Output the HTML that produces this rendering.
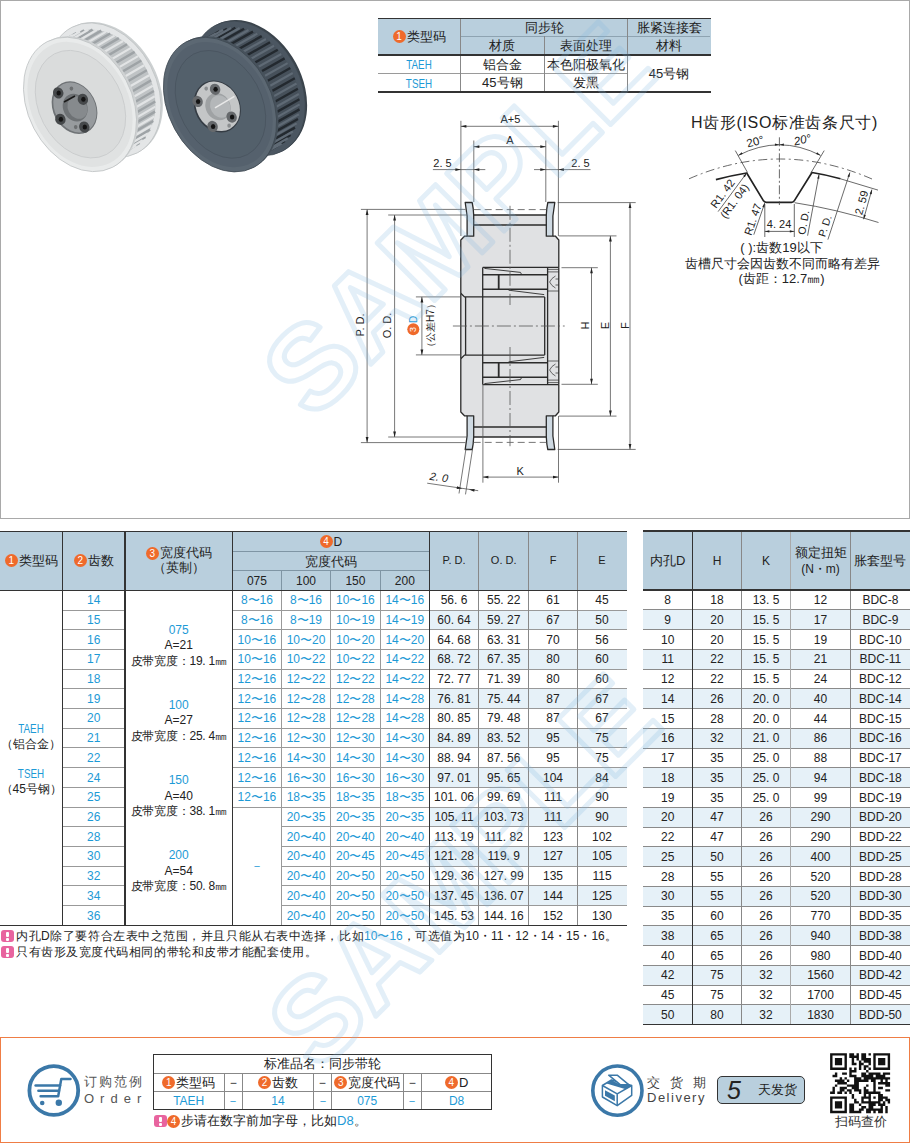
<!DOCTYPE html>
<html><head><meta charset="utf-8"><title>同步带轮</title>
<style>
*{box-sizing:border-box}
html,body{margin:0;padding:0}
body{width:910px;height:1144px;position:relative;overflow:hidden;background:#fff;font-family:"Liberation Sans",sans-serif;color:#222}
.t{position:absolute;width:300px;height:30px;display:flex;align-items:center;justify-content:center;white-space:nowrap;line-height:1}
.c{display:inline-block;border-radius:50%;background:#ef6a2b;color:#fff;text-align:center;vertical-align:middle;margin-right:1px;font-family:"Liberation Sans",sans-serif}
.b{color:#1d9ad6}
svg{position:absolute;left:0;top:0;overflow:visible}
</style></head><body>

<div style="position:absolute;left:0;top:0;width:910px;height:519px;border:1px solid #a9a9a9"></div>
<div style="position:absolute;left:377.5px;top:18.3px;width:333.0px;height:36.8px;background:#b9cfdd"></div>
<div style="position:absolute;left:460.6px;top:35.80px;width:249.9px;height:1px;background:#8ea3b1"></div>
<div style="position:absolute;left:377.5px;top:73.20px;width:250.1px;height:1px;background:#9a9a9a"></div>
<div style="position:absolute;left:460.10px;top:18.3px;width:1px;height:73.6px;background:#888"></div>
<div style="position:absolute;left:543.50px;top:36.3px;width:1px;height:55.6px;background:#888"></div>
<div style="position:absolute;left:627.10px;top:18.3px;width:1px;height:73.6px;background:#888"></div>
<div style="position:absolute;left:377.5px;top:17.55px;width:333.0px;height:1.5px;background:#333"></div>
<div style="position:absolute;left:377.5px;top:54.35px;width:333.0px;height:1.5px;background:#333"></div>
<div style="position:absolute;left:377.5px;top:91.15px;width:333.0px;height:1.5px;background:#333"></div>
<div class="t" style="left:269.1px;top:21.7px;font-size:13px;color:#222;"><span class="c" style="width:13px;height:13px;font-size:10px;line-height:13px">1</span>类型码</div>
<div class="t" style="left:394.1px;top:12.3px;font-size:13px;color:#222;">同步轮</div>
<div class="t" style="left:519.0px;top:12.3px;font-size:13px;color:#222;">胀紧连接套</div>
<div class="t" style="left:352.3px;top:30.7px;font-size:13px;color:#222;">材质</div>
<div class="t" style="left:435.8px;top:30.7px;font-size:13px;color:#222;">表面处理</div>
<div class="t" style="left:519.0px;top:30.7px;font-size:13px;color:#222;">材料</div>
<div class="t" style="left:269.1px;top:50.2px;font-size:12px;color:#1d9ad6;transform:scaleX(0.82)">TAEH</div>
<div class="t" style="left:269.1px;top:68.6px;font-size:12px;color:#1d9ad6;transform:scaleX(0.82)">TSEH</div>
<div class="t" style="left:352.3px;top:49.4px;font-size:13px;color:#222;">铝合金</div>
<div class="t" style="left:352.3px;top:67.8px;font-size:13px;color:#222;">45号钢</div>
<div class="t" style="left:435.8px;top:49.4px;font-size:13px;color:#222;">本色阳极氧化</div>
<div class="t" style="left:435.8px;top:67.8px;font-size:13px;color:#222;">发黑</div>
<div class="t" style="left:519.0px;top:58.5px;font-size:13px;color:#222;">45号钢</div>
<div style="position:absolute;left:0.0px;top:531.4px;width:626.7px;height:58.9px;background:#b9cfdd"></div>
<div style="position:absolute;left:429.3px;top:610.0px;width:197.4px;height:19.7px;background:#e6f1f8"></div>
<div style="position:absolute;left:429.3px;top:649.4px;width:197.4px;height:19.7px;background:#e6f1f8"></div>
<div style="position:absolute;left:429.3px;top:688.9px;width:197.4px;height:19.7px;background:#e6f1f8"></div>
<div style="position:absolute;left:429.3px;top:728.3px;width:197.4px;height:19.7px;background:#e6f1f8"></div>
<div style="position:absolute;left:429.3px;top:767.7px;width:197.4px;height:19.7px;background:#e6f1f8"></div>
<div style="position:absolute;left:429.3px;top:807.1px;width:197.4px;height:19.7px;background:#e6f1f8"></div>
<div style="position:absolute;left:429.3px;top:846.6px;width:197.4px;height:19.7px;background:#e6f1f8"></div>
<div style="position:absolute;left:429.3px;top:886.0px;width:197.4px;height:19.7px;background:#e6f1f8"></div>
<div style="position:absolute;left:232.4px;top:551.00px;width:196.9px;height:1px;background:#7f95a4"></div>
<div style="position:absolute;left:232.4px;top:570.20px;width:196.9px;height:1px;background:#7f95a4"></div>
<div style="position:absolute;left:281.00px;top:570.7px;width:1px;height:19.6px;background:#7f95a4"></div>
<div style="position:absolute;left:330.00px;top:570.7px;width:1px;height:19.6px;background:#7f95a4"></div>
<div style="position:absolute;left:379.80px;top:570.7px;width:1px;height:19.6px;background:#7f95a4"></div>
<div style="position:absolute;left:62.4px;top:609.51px;width:62.6px;height:1px;background:#999"></div>
<div style="position:absolute;left:232.4px;top:609.51px;width:394.3px;height:1px;background:#999"></div>
<div style="position:absolute;left:62.4px;top:629.22px;width:62.6px;height:1px;background:#999"></div>
<div style="position:absolute;left:232.4px;top:629.22px;width:394.3px;height:1px;background:#999"></div>
<div style="position:absolute;left:62.4px;top:648.94px;width:62.6px;height:1px;background:#999"></div>
<div style="position:absolute;left:232.4px;top:648.94px;width:394.3px;height:1px;background:#999"></div>
<div style="position:absolute;left:62.4px;top:668.65px;width:62.6px;height:1px;background:#999"></div>
<div style="position:absolute;left:232.4px;top:668.65px;width:394.3px;height:1px;background:#999"></div>
<div style="position:absolute;left:62.4px;top:688.36px;width:62.6px;height:1px;background:#999"></div>
<div style="position:absolute;left:232.4px;top:688.36px;width:394.3px;height:1px;background:#999"></div>
<div style="position:absolute;left:62.4px;top:708.07px;width:62.6px;height:1px;background:#999"></div>
<div style="position:absolute;left:232.4px;top:708.07px;width:394.3px;height:1px;background:#999"></div>
<div style="position:absolute;left:62.4px;top:727.78px;width:62.6px;height:1px;background:#999"></div>
<div style="position:absolute;left:232.4px;top:727.78px;width:394.3px;height:1px;background:#999"></div>
<div style="position:absolute;left:62.4px;top:747.49px;width:62.6px;height:1px;background:#999"></div>
<div style="position:absolute;left:232.4px;top:747.49px;width:394.3px;height:1px;background:#999"></div>
<div style="position:absolute;left:62.4px;top:767.21px;width:62.6px;height:1px;background:#999"></div>
<div style="position:absolute;left:232.4px;top:767.21px;width:394.3px;height:1px;background:#999"></div>
<div style="position:absolute;left:62.4px;top:786.92px;width:62.6px;height:1px;background:#999"></div>
<div style="position:absolute;left:232.4px;top:786.92px;width:394.3px;height:1px;background:#999"></div>
<div style="position:absolute;left:62.4px;top:806.63px;width:62.6px;height:1px;background:#999"></div>
<div style="position:absolute;left:232.4px;top:806.63px;width:394.3px;height:1px;background:#999"></div>
<div style="position:absolute;left:62.4px;top:826.34px;width:62.6px;height:1px;background:#999"></div>
<div style="position:absolute;left:281.5px;top:826.34px;width:345.2px;height:1px;background:#999"></div>
<div style="position:absolute;left:62.4px;top:846.05px;width:62.6px;height:1px;background:#999"></div>
<div style="position:absolute;left:281.5px;top:846.05px;width:345.2px;height:1px;background:#999"></div>
<div style="position:absolute;left:62.4px;top:865.76px;width:62.6px;height:1px;background:#999"></div>
<div style="position:absolute;left:281.5px;top:865.76px;width:345.2px;height:1px;background:#999"></div>
<div style="position:absolute;left:62.4px;top:885.48px;width:62.6px;height:1px;background:#999"></div>
<div style="position:absolute;left:281.5px;top:885.48px;width:345.2px;height:1px;background:#999"></div>
<div style="position:absolute;left:62.4px;top:905.19px;width:62.6px;height:1px;background:#999"></div>
<div style="position:absolute;left:281.5px;top:905.19px;width:345.2px;height:1px;background:#999"></div>
<div style="position:absolute;left:281.00px;top:590.3px;width:1px;height:335.1px;background:#999"></div>
<div style="position:absolute;left:330.00px;top:590.3px;width:1px;height:335.1px;background:#999"></div>
<div style="position:absolute;left:379.80px;top:590.3px;width:1px;height:335.1px;background:#999"></div>
<div style="position:absolute;left:478.10px;top:531.4px;width:1px;height:394.0px;background:#888"></div>
<div style="position:absolute;left:528.20px;top:531.4px;width:1px;height:394.0px;background:#888"></div>
<div style="position:absolute;left:576.90px;top:531.4px;width:1px;height:394.0px;background:#888"></div>
<div style="position:absolute;left:61.75px;top:531.4px;width:1.3px;height:394.0px;background:#333"></div>
<div style="position:absolute;left:124.35px;top:531.4px;width:1.3px;height:394.0px;background:#333"></div>
<div style="position:absolute;left:231.75px;top:531.4px;width:1.3px;height:394.0px;background:#333"></div>
<div style="position:absolute;left:428.65px;top:531.4px;width:1.3px;height:394.0px;background:#333"></div>
<div style="position:absolute;left:0.0px;top:530.65px;width:626.7px;height:1.5px;background:#333"></div>
<div style="position:absolute;left:0.0px;top:589.55px;width:626.7px;height:1.5px;background:#333"></div>
<div style="position:absolute;left:0.0px;top:924.65px;width:626.7px;height:1.5px;background:#333"></div>
<div class="t" style="left:-118.8px;top:545.8px;font-size:13px;color:#222;"><span class="c" style="width:13px;height:13px;font-size:10px;line-height:13px">1</span>类型码</div>
<div class="t" style="left:-56.3px;top:545.8px;font-size:13px;color:#222;"><span class="c" style="width:13px;height:13px;font-size:10px;line-height:13px">2</span>齿数</div>
<div class="t" style="left:28.7px;top:544.8px;font-size:13px;flex-direction:column;line-height:15px"><div><span class="c" style="width:13px;height:13px;font-size:10px;line-height:13px">3</span>宽度代码</div><div>（英制）</div></div>
<div class="t" style="left:180.9px;top:526.5px;font-size:12px;color:#222;"><span class="c" style="width:13px;height:13px;font-size:10px;line-height:13px">4</span>D</div>
<div class="t" style="left:180.9px;top:546.1px;font-size:13px;color:#222;">宽度代码</div>
<div class="t" style="left:106.9px;top:565.5px;font-size:12px;color:#222;">075</div>
<div class="t" style="left:156.0px;top:565.5px;font-size:12px;color:#222;">100</div>
<div class="t" style="left:205.4px;top:565.5px;font-size:12px;color:#222;">150</div>
<div class="t" style="left:254.8px;top:565.5px;font-size:12px;color:#222;">200</div>
<div class="t" style="left:304.0px;top:545.8px;font-size:11px;color:#222;">P. D.</div>
<div class="t" style="left:353.7px;top:545.8px;font-size:11px;color:#222;">O. D.</div>
<div class="t" style="left:403.0px;top:545.8px;font-size:11px;color:#222;">F</div>
<div class="t" style="left:452.0px;top:545.8px;font-size:11px;color:#222;">E</div>
<div class="t" style="left:-56.3px;top:585.2px;font-size:12px;color:#1d9ad6;">14</div>
<div class="t" style="left:106.9px;top:585.2px;font-size:12px;color:#1d9ad6;">8〜16</div>
<div class="t" style="left:156.0px;top:585.2px;font-size:12px;color:#1d9ad6;">8〜16</div>
<div class="t" style="left:205.4px;top:585.2px;font-size:12px;color:#1d9ad6;">10〜16</div>
<div class="t" style="left:254.8px;top:585.2px;font-size:12px;color:#1d9ad6;">14〜16</div>
<div class="t" style="left:304.0px;top:585.2px;font-size:12px;color:#222;">56. 6</div>
<div class="t" style="left:353.7px;top:585.2px;font-size:12px;color:#222;">55. 22</div>
<div class="t" style="left:403.0px;top:585.2px;font-size:12px;color:#222;">61</div>
<div class="t" style="left:452.0px;top:585.2px;font-size:12px;color:#222;">45</div>
<div class="t" style="left:-56.3px;top:604.9px;font-size:12px;color:#1d9ad6;">15</div>
<div class="t" style="left:106.9px;top:604.9px;font-size:12px;color:#1d9ad6;">8〜16</div>
<div class="t" style="left:156.0px;top:604.9px;font-size:12px;color:#1d9ad6;">8〜19</div>
<div class="t" style="left:205.4px;top:604.9px;font-size:12px;color:#1d9ad6;">10〜19</div>
<div class="t" style="left:254.8px;top:604.9px;font-size:12px;color:#1d9ad6;">14〜19</div>
<div class="t" style="left:304.0px;top:604.9px;font-size:12px;color:#222;">60. 64</div>
<div class="t" style="left:353.7px;top:604.9px;font-size:12px;color:#222;">59. 27</div>
<div class="t" style="left:403.0px;top:604.9px;font-size:12px;color:#222;">67</div>
<div class="t" style="left:452.0px;top:604.9px;font-size:12px;color:#222;">50</div>
<div class="t" style="left:-56.3px;top:624.6px;font-size:12px;color:#1d9ad6;">16</div>
<div class="t" style="left:106.9px;top:624.6px;font-size:12px;color:#1d9ad6;">10〜16</div>
<div class="t" style="left:156.0px;top:624.6px;font-size:12px;color:#1d9ad6;">10〜20</div>
<div class="t" style="left:205.4px;top:624.6px;font-size:12px;color:#1d9ad6;">10〜20</div>
<div class="t" style="left:254.8px;top:624.6px;font-size:12px;color:#1d9ad6;">14〜20</div>
<div class="t" style="left:304.0px;top:624.6px;font-size:12px;color:#222;">64. 68</div>
<div class="t" style="left:353.7px;top:624.6px;font-size:12px;color:#222;">63. 31</div>
<div class="t" style="left:403.0px;top:624.6px;font-size:12px;color:#222;">70</div>
<div class="t" style="left:452.0px;top:624.6px;font-size:12px;color:#222;">56</div>
<div class="t" style="left:-56.3px;top:644.3px;font-size:12px;color:#1d9ad6;">17</div>
<div class="t" style="left:106.9px;top:644.3px;font-size:12px;color:#1d9ad6;">10〜16</div>
<div class="t" style="left:156.0px;top:644.3px;font-size:12px;color:#1d9ad6;">10〜22</div>
<div class="t" style="left:205.4px;top:644.3px;font-size:12px;color:#1d9ad6;">10〜22</div>
<div class="t" style="left:254.8px;top:644.3px;font-size:12px;color:#1d9ad6;">14〜22</div>
<div class="t" style="left:304.0px;top:644.3px;font-size:12px;color:#222;">68. 72</div>
<div class="t" style="left:353.7px;top:644.3px;font-size:12px;color:#222;">67. 35</div>
<div class="t" style="left:403.0px;top:644.3px;font-size:12px;color:#222;">80</div>
<div class="t" style="left:452.0px;top:644.3px;font-size:12px;color:#222;">60</div>
<div class="t" style="left:-56.3px;top:664.0px;font-size:12px;color:#1d9ad6;">18</div>
<div class="t" style="left:106.9px;top:664.0px;font-size:12px;color:#1d9ad6;">12〜16</div>
<div class="t" style="left:156.0px;top:664.0px;font-size:12px;color:#1d9ad6;">12〜22</div>
<div class="t" style="left:205.4px;top:664.0px;font-size:12px;color:#1d9ad6;">12〜22</div>
<div class="t" style="left:254.8px;top:664.0px;font-size:12px;color:#1d9ad6;">14〜22</div>
<div class="t" style="left:304.0px;top:664.0px;font-size:12px;color:#222;">72. 77</div>
<div class="t" style="left:353.7px;top:664.0px;font-size:12px;color:#222;">71. 39</div>
<div class="t" style="left:403.0px;top:664.0px;font-size:12px;color:#222;">80</div>
<div class="t" style="left:452.0px;top:664.0px;font-size:12px;color:#222;">60</div>
<div class="t" style="left:-56.3px;top:683.7px;font-size:12px;color:#1d9ad6;">19</div>
<div class="t" style="left:106.9px;top:683.7px;font-size:12px;color:#1d9ad6;">12〜16</div>
<div class="t" style="left:156.0px;top:683.7px;font-size:12px;color:#1d9ad6;">12〜28</div>
<div class="t" style="left:205.4px;top:683.7px;font-size:12px;color:#1d9ad6;">12〜28</div>
<div class="t" style="left:254.8px;top:683.7px;font-size:12px;color:#1d9ad6;">14〜28</div>
<div class="t" style="left:304.0px;top:683.7px;font-size:12px;color:#222;">76. 81</div>
<div class="t" style="left:353.7px;top:683.7px;font-size:12px;color:#222;">75. 44</div>
<div class="t" style="left:403.0px;top:683.7px;font-size:12px;color:#222;">87</div>
<div class="t" style="left:452.0px;top:683.7px;font-size:12px;color:#222;">67</div>
<div class="t" style="left:-56.3px;top:703.4px;font-size:12px;color:#1d9ad6;">20</div>
<div class="t" style="left:106.9px;top:703.4px;font-size:12px;color:#1d9ad6;">12〜16</div>
<div class="t" style="left:156.0px;top:703.4px;font-size:12px;color:#1d9ad6;">12〜28</div>
<div class="t" style="left:205.4px;top:703.4px;font-size:12px;color:#1d9ad6;">12〜28</div>
<div class="t" style="left:254.8px;top:703.4px;font-size:12px;color:#1d9ad6;">14〜28</div>
<div class="t" style="left:304.0px;top:703.4px;font-size:12px;color:#222;">80. 85</div>
<div class="t" style="left:353.7px;top:703.4px;font-size:12px;color:#222;">79. 48</div>
<div class="t" style="left:403.0px;top:703.4px;font-size:12px;color:#222;">87</div>
<div class="t" style="left:452.0px;top:703.4px;font-size:12px;color:#222;">67</div>
<div class="t" style="left:-56.3px;top:723.1px;font-size:12px;color:#1d9ad6;">21</div>
<div class="t" style="left:106.9px;top:723.1px;font-size:12px;color:#1d9ad6;">12〜16</div>
<div class="t" style="left:156.0px;top:723.1px;font-size:12px;color:#1d9ad6;">12〜30</div>
<div class="t" style="left:205.4px;top:723.1px;font-size:12px;color:#1d9ad6;">12〜30</div>
<div class="t" style="left:254.8px;top:723.1px;font-size:12px;color:#1d9ad6;">14〜30</div>
<div class="t" style="left:304.0px;top:723.1px;font-size:12px;color:#222;">84. 89</div>
<div class="t" style="left:353.7px;top:723.1px;font-size:12px;color:#222;">83. 52</div>
<div class="t" style="left:403.0px;top:723.1px;font-size:12px;color:#222;">95</div>
<div class="t" style="left:452.0px;top:723.1px;font-size:12px;color:#222;">75</div>
<div class="t" style="left:-56.3px;top:742.8px;font-size:12px;color:#1d9ad6;">22</div>
<div class="t" style="left:106.9px;top:742.8px;font-size:12px;color:#1d9ad6;">12〜16</div>
<div class="t" style="left:156.0px;top:742.8px;font-size:12px;color:#1d9ad6;">14〜30</div>
<div class="t" style="left:205.4px;top:742.8px;font-size:12px;color:#1d9ad6;">14〜30</div>
<div class="t" style="left:254.8px;top:742.8px;font-size:12px;color:#1d9ad6;">14〜30</div>
<div class="t" style="left:304.0px;top:742.8px;font-size:12px;color:#222;">88. 94</div>
<div class="t" style="left:353.7px;top:742.8px;font-size:12px;color:#222;">87. 56</div>
<div class="t" style="left:403.0px;top:742.8px;font-size:12px;color:#222;">95</div>
<div class="t" style="left:452.0px;top:742.8px;font-size:12px;color:#222;">75</div>
<div class="t" style="left:-56.3px;top:762.6px;font-size:12px;color:#1d9ad6;">24</div>
<div class="t" style="left:106.9px;top:762.6px;font-size:12px;color:#1d9ad6;">12〜16</div>
<div class="t" style="left:156.0px;top:762.6px;font-size:12px;color:#1d9ad6;">16〜30</div>
<div class="t" style="left:205.4px;top:762.6px;font-size:12px;color:#1d9ad6;">16〜30</div>
<div class="t" style="left:254.8px;top:762.6px;font-size:12px;color:#1d9ad6;">16〜30</div>
<div class="t" style="left:304.0px;top:762.6px;font-size:12px;color:#222;">97. 01</div>
<div class="t" style="left:353.7px;top:762.6px;font-size:12px;color:#222;">95. 65</div>
<div class="t" style="left:403.0px;top:762.6px;font-size:12px;color:#222;">104</div>
<div class="t" style="left:452.0px;top:762.6px;font-size:12px;color:#222;">84</div>
<div class="t" style="left:-56.3px;top:782.3px;font-size:12px;color:#1d9ad6;">25</div>
<div class="t" style="left:106.9px;top:782.3px;font-size:12px;color:#1d9ad6;">12〜16</div>
<div class="t" style="left:156.0px;top:782.3px;font-size:12px;color:#1d9ad6;">18〜35</div>
<div class="t" style="left:205.4px;top:782.3px;font-size:12px;color:#1d9ad6;">18〜35</div>
<div class="t" style="left:254.8px;top:782.3px;font-size:12px;color:#1d9ad6;">18〜35</div>
<div class="t" style="left:304.0px;top:782.3px;font-size:12px;color:#222;">101. 06</div>
<div class="t" style="left:353.7px;top:782.3px;font-size:12px;color:#222;">99. 69</div>
<div class="t" style="left:403.0px;top:782.3px;font-size:12px;color:#222;">111</div>
<div class="t" style="left:452.0px;top:782.3px;font-size:12px;color:#222;">90</div>
<div class="t" style="left:-56.3px;top:802.0px;font-size:12px;color:#1d9ad6;">26</div>
<div class="t" style="left:156.0px;top:802.0px;font-size:12px;color:#1d9ad6;">20〜35</div>
<div class="t" style="left:205.4px;top:802.0px;font-size:12px;color:#1d9ad6;">20〜35</div>
<div class="t" style="left:254.8px;top:802.0px;font-size:12px;color:#1d9ad6;">20〜35</div>
<div class="t" style="left:304.0px;top:802.0px;font-size:12px;color:#222;">105. 11</div>
<div class="t" style="left:353.7px;top:802.0px;font-size:12px;color:#222;">103. 73</div>
<div class="t" style="left:403.0px;top:802.0px;font-size:12px;color:#222;">111</div>
<div class="t" style="left:452.0px;top:802.0px;font-size:12px;color:#222;">90</div>
<div class="t" style="left:-56.3px;top:821.7px;font-size:12px;color:#1d9ad6;">28</div>
<div class="t" style="left:156.0px;top:821.7px;font-size:12px;color:#1d9ad6;">20〜40</div>
<div class="t" style="left:205.4px;top:821.7px;font-size:12px;color:#1d9ad6;">20〜40</div>
<div class="t" style="left:254.8px;top:821.7px;font-size:12px;color:#1d9ad6;">20〜40</div>
<div class="t" style="left:304.0px;top:821.7px;font-size:12px;color:#222;">113. 19</div>
<div class="t" style="left:353.7px;top:821.7px;font-size:12px;color:#222;">111. 82</div>
<div class="t" style="left:403.0px;top:821.7px;font-size:12px;color:#222;">123</div>
<div class="t" style="left:452.0px;top:821.7px;font-size:12px;color:#222;">102</div>
<div class="t" style="left:-56.3px;top:841.4px;font-size:12px;color:#1d9ad6;">30</div>
<div class="t" style="left:156.0px;top:841.4px;font-size:12px;color:#1d9ad6;">20〜40</div>
<div class="t" style="left:205.4px;top:841.4px;font-size:12px;color:#1d9ad6;">20〜45</div>
<div class="t" style="left:254.8px;top:841.4px;font-size:12px;color:#1d9ad6;">20〜45</div>
<div class="t" style="left:304.0px;top:841.4px;font-size:12px;color:#222;">121. 28</div>
<div class="t" style="left:353.7px;top:841.4px;font-size:12px;color:#222;">119. 9</div>
<div class="t" style="left:403.0px;top:841.4px;font-size:12px;color:#222;">127</div>
<div class="t" style="left:452.0px;top:841.4px;font-size:12px;color:#222;">105</div>
<div class="t" style="left:-56.3px;top:861.1px;font-size:12px;color:#1d9ad6;">32</div>
<div class="t" style="left:156.0px;top:861.1px;font-size:12px;color:#1d9ad6;">20〜40</div>
<div class="t" style="left:205.4px;top:861.1px;font-size:12px;color:#1d9ad6;">20〜50</div>
<div class="t" style="left:254.8px;top:861.1px;font-size:12px;color:#1d9ad6;">20〜50</div>
<div class="t" style="left:304.0px;top:861.1px;font-size:12px;color:#222;">129. 36</div>
<div class="t" style="left:353.7px;top:861.1px;font-size:12px;color:#222;">127. 99</div>
<div class="t" style="left:403.0px;top:861.1px;font-size:12px;color:#222;">135</div>
<div class="t" style="left:452.0px;top:861.1px;font-size:12px;color:#222;">115</div>
<div class="t" style="left:-56.3px;top:880.8px;font-size:12px;color:#1d9ad6;">34</div>
<div class="t" style="left:156.0px;top:880.8px;font-size:12px;color:#1d9ad6;">20〜40</div>
<div class="t" style="left:205.4px;top:880.8px;font-size:12px;color:#1d9ad6;">20〜50</div>
<div class="t" style="left:254.8px;top:880.8px;font-size:12px;color:#1d9ad6;">20〜50</div>
<div class="t" style="left:304.0px;top:880.8px;font-size:12px;color:#222;">137. 45</div>
<div class="t" style="left:353.7px;top:880.8px;font-size:12px;color:#222;">136. 07</div>
<div class="t" style="left:403.0px;top:880.8px;font-size:12px;color:#222;">144</div>
<div class="t" style="left:452.0px;top:880.8px;font-size:12px;color:#222;">125</div>
<div class="t" style="left:-56.3px;top:900.5px;font-size:12px;color:#1d9ad6;">36</div>
<div class="t" style="left:156.0px;top:900.5px;font-size:12px;color:#1d9ad6;">20〜40</div>
<div class="t" style="left:205.4px;top:900.5px;font-size:12px;color:#1d9ad6;">20〜50</div>
<div class="t" style="left:254.8px;top:900.5px;font-size:12px;color:#1d9ad6;">20〜50</div>
<div class="t" style="left:304.0px;top:900.5px;font-size:12px;color:#222;">145. 53</div>
<div class="t" style="left:353.7px;top:900.5px;font-size:12px;color:#222;">144. 16</div>
<div class="t" style="left:403.0px;top:900.5px;font-size:12px;color:#222;">152</div>
<div class="t" style="left:452.0px;top:900.5px;font-size:12px;color:#222;">130</div>
<div class="t" style="left:-118.8px;top:713.8px;font-size:12px;color:#1d9ad6;transform:scaleX(0.82)">TAEH</div>
<div class="t" style="left:-118.8px;top:728.6px;font-size:12px;color:#222;">（铝合金）</div>
<div class="t" style="left:-118.8px;top:759.1px;font-size:12px;color:#1d9ad6;transform:scaleX(0.82)">TSEH</div>
<div class="t" style="left:-118.8px;top:773.9px;font-size:12px;color:#222;">（45号钢）</div>
<div class="t" style="left:28.7px;top:614.9px;font-size:12px;color:#1d9ad6;">075</div>
<div class="t" style="left:28.7px;top:630.4px;font-size:12px;color:#222;">A=21</div>
<div class="t" style="left:28.7px;top:645.9px;font-size:12px;color:#222;letter-spacing:-0.25px">皮带宽度：19. 1㎜</div>
<div class="t" style="left:28.7px;top:689.5px;font-size:12px;color:#1d9ad6;">100</div>
<div class="t" style="left:28.7px;top:705.0px;font-size:12px;color:#222;">A=27</div>
<div class="t" style="left:28.7px;top:720.5px;font-size:12px;color:#222;letter-spacing:-0.25px">皮带宽度：25. 4㎜</div>
<div class="t" style="left:28.7px;top:765.0px;font-size:12px;color:#1d9ad6;">150</div>
<div class="t" style="left:28.7px;top:780.5px;font-size:12px;color:#222;">A=40</div>
<div class="t" style="left:28.7px;top:796.0px;font-size:12px;color:#222;letter-spacing:-0.25px">皮带宽度：38. 1㎜</div>
<div class="t" style="left:28.7px;top:840.0px;font-size:12px;color:#1d9ad6;">200</div>
<div class="t" style="left:28.7px;top:855.5px;font-size:12px;color:#222;">A=54</div>
<div class="t" style="left:28.7px;top:871.0px;font-size:12px;color:#222;letter-spacing:-0.25px">皮带宽度：50. 8㎜</div>
<div class="t" style="left:106.9px;top:851.3px;font-size:12px;color:#1d9ad6;">－</div>
<div style="position:absolute;left:642.9px;top:531.2px;width:267.6px;height:59.0px;background:#b9cfdd"></div>
<div style="position:absolute;left:642.9px;top:609.9px;width:267.6px;height:19.7px;background:#e6f1f8"></div>
<div style="position:absolute;left:642.9px;top:649.4px;width:267.6px;height:19.7px;background:#e6f1f8"></div>
<div style="position:absolute;left:642.9px;top:688.9px;width:267.6px;height:19.7px;background:#e6f1f8"></div>
<div style="position:absolute;left:642.9px;top:728.4px;width:267.6px;height:19.7px;background:#e6f1f8"></div>
<div style="position:absolute;left:642.9px;top:767.9px;width:267.6px;height:19.7px;background:#e6f1f8"></div>
<div style="position:absolute;left:642.9px;top:807.4px;width:267.6px;height:19.7px;background:#e6f1f8"></div>
<div style="position:absolute;left:642.9px;top:846.9px;width:267.6px;height:19.7px;background:#e6f1f8"></div>
<div style="position:absolute;left:642.9px;top:886.4px;width:267.6px;height:19.7px;background:#e6f1f8"></div>
<div style="position:absolute;left:642.9px;top:925.9px;width:267.6px;height:19.7px;background:#e6f1f8"></div>
<div style="position:absolute;left:642.9px;top:965.4px;width:267.6px;height:19.7px;background:#e6f1f8"></div>
<div style="position:absolute;left:642.9px;top:1004.9px;width:267.6px;height:19.7px;background:#e6f1f8"></div>
<div style="position:absolute;left:642.9px;top:609.45px;width:267.6px;height:1px;background:#8a8a8a"></div>
<div style="position:absolute;left:642.9px;top:629.19px;width:267.6px;height:1px;background:#8a8a8a"></div>
<div style="position:absolute;left:642.9px;top:648.94px;width:267.6px;height:1px;background:#8a8a8a"></div>
<div style="position:absolute;left:642.9px;top:668.68px;width:267.6px;height:1px;background:#8a8a8a"></div>
<div style="position:absolute;left:642.9px;top:688.43px;width:267.6px;height:1px;background:#8a8a8a"></div>
<div style="position:absolute;left:642.9px;top:708.17px;width:267.6px;height:1px;background:#8a8a8a"></div>
<div style="position:absolute;left:642.9px;top:727.92px;width:267.6px;height:1px;background:#8a8a8a"></div>
<div style="position:absolute;left:642.9px;top:747.66px;width:267.6px;height:1px;background:#8a8a8a"></div>
<div style="position:absolute;left:642.9px;top:767.41px;width:267.6px;height:1px;background:#8a8a8a"></div>
<div style="position:absolute;left:642.9px;top:787.15px;width:267.6px;height:1px;background:#8a8a8a"></div>
<div style="position:absolute;left:642.9px;top:806.90px;width:267.6px;height:1px;background:#8a8a8a"></div>
<div style="position:absolute;left:642.9px;top:826.65px;width:267.6px;height:1px;background:#8a8a8a"></div>
<div style="position:absolute;left:642.9px;top:846.39px;width:267.6px;height:1px;background:#8a8a8a"></div>
<div style="position:absolute;left:642.9px;top:866.14px;width:267.6px;height:1px;background:#8a8a8a"></div>
<div style="position:absolute;left:642.9px;top:885.88px;width:267.6px;height:1px;background:#8a8a8a"></div>
<div style="position:absolute;left:642.9px;top:905.63px;width:267.6px;height:1px;background:#8a8a8a"></div>
<div style="position:absolute;left:642.9px;top:925.37px;width:267.6px;height:1px;background:#8a8a8a"></div>
<div style="position:absolute;left:642.9px;top:945.12px;width:267.6px;height:1px;background:#8a8a8a"></div>
<div style="position:absolute;left:642.9px;top:964.86px;width:267.6px;height:1px;background:#8a8a8a"></div>
<div style="position:absolute;left:642.9px;top:984.61px;width:267.6px;height:1px;background:#8a8a8a"></div>
<div style="position:absolute;left:642.9px;top:1004.35px;width:267.6px;height:1px;background:#8a8a8a"></div>
<div style="position:absolute;left:740.90px;top:531.2px;width:1px;height:493.4px;background:#888"></div>
<div style="position:absolute;left:790.10px;top:531.2px;width:1px;height:493.4px;background:#aaa"></div>
<div style="position:absolute;left:849.80px;top:531.2px;width:1px;height:493.4px;background:#888"></div>
<div style="position:absolute;left:691.85px;top:531.2px;width:1.3px;height:493.4px;background:#333"></div>
<div style="position:absolute;left:642.9px;top:530.45px;width:267.6px;height:1.5px;background:#333"></div>
<div style="position:absolute;left:642.9px;top:589.45px;width:267.6px;height:1.5px;background:#333"></div>
<div style="position:absolute;left:642.9px;top:1023.85px;width:267.6px;height:1.5px;background:#333"></div>
<div class="t" style="left:517.7px;top:545.7px;font-size:13px;color:#222;">内孔D</div>
<div class="t" style="left:567.0px;top:545.7px;font-size:12px;color:#222;">H</div>
<div class="t" style="left:616.0px;top:545.7px;font-size:12px;color:#222;">K</div>
<div class="t" style="left:670.5px;top:545.7px;font-size:13px;flex-direction:column;line-height:16px"><div>额定扭矩</div><div style="font-size:12px">(N・m)</div></div>
<div class="t" style="left:730.4px;top:545.7px;font-size:13px;color:#222;">胀套型号</div>
<div class="t" style="left:517.7px;top:585.1px;font-size:12px;color:#222;">8</div>
<div class="t" style="left:567.0px;top:585.1px;font-size:12px;color:#222;">18</div>
<div class="t" style="left:616.0px;top:585.1px;font-size:12px;color:#222;">13. 5</div>
<div class="t" style="left:670.5px;top:585.1px;font-size:12px;color:#222;">12</div>
<div class="t" style="left:730.4px;top:585.1px;font-size:12px;color:#222;">BDC-8</div>
<div class="t" style="left:517.7px;top:604.8px;font-size:12px;color:#222;">9</div>
<div class="t" style="left:567.0px;top:604.8px;font-size:12px;color:#222;">20</div>
<div class="t" style="left:616.0px;top:604.8px;font-size:12px;color:#222;">15. 5</div>
<div class="t" style="left:670.5px;top:604.8px;font-size:12px;color:#222;">17</div>
<div class="t" style="left:730.4px;top:604.8px;font-size:12px;color:#222;">BDC-9</div>
<div class="t" style="left:517.7px;top:624.6px;font-size:12px;color:#222;">10</div>
<div class="t" style="left:567.0px;top:624.6px;font-size:12px;color:#222;">20</div>
<div class="t" style="left:616.0px;top:624.6px;font-size:12px;color:#222;">15. 5</div>
<div class="t" style="left:670.5px;top:624.6px;font-size:12px;color:#222;">19</div>
<div class="t" style="left:730.4px;top:624.6px;font-size:12px;color:#222;">BDC-10</div>
<div class="t" style="left:517.7px;top:644.3px;font-size:12px;color:#222;">11</div>
<div class="t" style="left:567.0px;top:644.3px;font-size:12px;color:#222;">22</div>
<div class="t" style="left:616.0px;top:644.3px;font-size:12px;color:#222;">15. 5</div>
<div class="t" style="left:670.5px;top:644.3px;font-size:12px;color:#222;">21</div>
<div class="t" style="left:730.4px;top:644.3px;font-size:12px;color:#222;">BDC-11</div>
<div class="t" style="left:517.7px;top:664.1px;font-size:12px;color:#222;">12</div>
<div class="t" style="left:567.0px;top:664.1px;font-size:12px;color:#222;">22</div>
<div class="t" style="left:616.0px;top:664.1px;font-size:12px;color:#222;">15. 5</div>
<div class="t" style="left:670.5px;top:664.1px;font-size:12px;color:#222;">24</div>
<div class="t" style="left:730.4px;top:664.1px;font-size:12px;color:#222;">BDC-12</div>
<div class="t" style="left:517.7px;top:683.8px;font-size:12px;color:#222;">14</div>
<div class="t" style="left:567.0px;top:683.8px;font-size:12px;color:#222;">26</div>
<div class="t" style="left:616.0px;top:683.8px;font-size:12px;color:#222;">20. 0</div>
<div class="t" style="left:670.5px;top:683.8px;font-size:12px;color:#222;">40</div>
<div class="t" style="left:730.4px;top:683.8px;font-size:12px;color:#222;">BDC-14</div>
<div class="t" style="left:517.7px;top:703.5px;font-size:12px;color:#222;">15</div>
<div class="t" style="left:567.0px;top:703.5px;font-size:12px;color:#222;">28</div>
<div class="t" style="left:616.0px;top:703.5px;font-size:12px;color:#222;">20. 0</div>
<div class="t" style="left:670.5px;top:703.5px;font-size:12px;color:#222;">44</div>
<div class="t" style="left:730.4px;top:703.5px;font-size:12px;color:#222;">BDC-15</div>
<div class="t" style="left:517.7px;top:723.3px;font-size:12px;color:#222;">16</div>
<div class="t" style="left:567.0px;top:723.3px;font-size:12px;color:#222;">32</div>
<div class="t" style="left:616.0px;top:723.3px;font-size:12px;color:#222;">21. 0</div>
<div class="t" style="left:670.5px;top:723.3px;font-size:12px;color:#222;">86</div>
<div class="t" style="left:730.4px;top:723.3px;font-size:12px;color:#222;">BDC-16</div>
<div class="t" style="left:517.7px;top:743.0px;font-size:12px;color:#222;">17</div>
<div class="t" style="left:567.0px;top:743.0px;font-size:12px;color:#222;">35</div>
<div class="t" style="left:616.0px;top:743.0px;font-size:12px;color:#222;">25. 0</div>
<div class="t" style="left:670.5px;top:743.0px;font-size:12px;color:#222;">88</div>
<div class="t" style="left:730.4px;top:743.0px;font-size:12px;color:#222;">BDC-17</div>
<div class="t" style="left:517.7px;top:762.8px;font-size:12px;color:#222;">18</div>
<div class="t" style="left:567.0px;top:762.8px;font-size:12px;color:#222;">35</div>
<div class="t" style="left:616.0px;top:762.8px;font-size:12px;color:#222;">25. 0</div>
<div class="t" style="left:670.5px;top:762.8px;font-size:12px;color:#222;">94</div>
<div class="t" style="left:730.4px;top:762.8px;font-size:12px;color:#222;">BDC-18</div>
<div class="t" style="left:517.7px;top:782.5px;font-size:12px;color:#222;">19</div>
<div class="t" style="left:567.0px;top:782.5px;font-size:12px;color:#222;">35</div>
<div class="t" style="left:616.0px;top:782.5px;font-size:12px;color:#222;">25. 0</div>
<div class="t" style="left:670.5px;top:782.5px;font-size:12px;color:#222;">99</div>
<div class="t" style="left:730.4px;top:782.5px;font-size:12px;color:#222;">BDC-19</div>
<div class="t" style="left:517.7px;top:802.3px;font-size:12px;color:#222;">20</div>
<div class="t" style="left:567.0px;top:802.3px;font-size:12px;color:#222;">47</div>
<div class="t" style="left:616.0px;top:802.3px;font-size:12px;color:#222;">26</div>
<div class="t" style="left:670.5px;top:802.3px;font-size:12px;color:#222;">290</div>
<div class="t" style="left:730.4px;top:802.3px;font-size:12px;color:#222;">BDD-20</div>
<div class="t" style="left:517.7px;top:822.0px;font-size:12px;color:#222;">22</div>
<div class="t" style="left:567.0px;top:822.0px;font-size:12px;color:#222;">47</div>
<div class="t" style="left:616.0px;top:822.0px;font-size:12px;color:#222;">26</div>
<div class="t" style="left:670.5px;top:822.0px;font-size:12px;color:#222;">290</div>
<div class="t" style="left:730.4px;top:822.0px;font-size:12px;color:#222;">BDD-22</div>
<div class="t" style="left:517.7px;top:841.8px;font-size:12px;color:#222;">25</div>
<div class="t" style="left:567.0px;top:841.8px;font-size:12px;color:#222;">50</div>
<div class="t" style="left:616.0px;top:841.8px;font-size:12px;color:#222;">26</div>
<div class="t" style="left:670.5px;top:841.8px;font-size:12px;color:#222;">400</div>
<div class="t" style="left:730.4px;top:841.8px;font-size:12px;color:#222;">BDD-25</div>
<div class="t" style="left:517.7px;top:861.5px;font-size:12px;color:#222;">28</div>
<div class="t" style="left:567.0px;top:861.5px;font-size:12px;color:#222;">55</div>
<div class="t" style="left:616.0px;top:861.5px;font-size:12px;color:#222;">26</div>
<div class="t" style="left:670.5px;top:861.5px;font-size:12px;color:#222;">520</div>
<div class="t" style="left:730.4px;top:861.5px;font-size:12px;color:#222;">BDD-28</div>
<div class="t" style="left:517.7px;top:881.3px;font-size:12px;color:#222;">30</div>
<div class="t" style="left:567.0px;top:881.3px;font-size:12px;color:#222;">55</div>
<div class="t" style="left:616.0px;top:881.3px;font-size:12px;color:#222;">26</div>
<div class="t" style="left:670.5px;top:881.3px;font-size:12px;color:#222;">520</div>
<div class="t" style="left:730.4px;top:881.3px;font-size:12px;color:#222;">BDD-30</div>
<div class="t" style="left:517.7px;top:901.0px;font-size:12px;color:#222;">35</div>
<div class="t" style="left:567.0px;top:901.0px;font-size:12px;color:#222;">60</div>
<div class="t" style="left:616.0px;top:901.0px;font-size:12px;color:#222;">26</div>
<div class="t" style="left:670.5px;top:901.0px;font-size:12px;color:#222;">770</div>
<div class="t" style="left:730.4px;top:901.0px;font-size:12px;color:#222;">BDD-35</div>
<div class="t" style="left:517.7px;top:920.7px;font-size:12px;color:#222;">38</div>
<div class="t" style="left:567.0px;top:920.7px;font-size:12px;color:#222;">65</div>
<div class="t" style="left:616.0px;top:920.7px;font-size:12px;color:#222;">26</div>
<div class="t" style="left:670.5px;top:920.7px;font-size:12px;color:#222;">940</div>
<div class="t" style="left:730.4px;top:920.7px;font-size:12px;color:#222;">BDD-38</div>
<div class="t" style="left:517.7px;top:940.5px;font-size:12px;color:#222;">40</div>
<div class="t" style="left:567.0px;top:940.5px;font-size:12px;color:#222;">65</div>
<div class="t" style="left:616.0px;top:940.5px;font-size:12px;color:#222;">26</div>
<div class="t" style="left:670.5px;top:940.5px;font-size:12px;color:#222;">980</div>
<div class="t" style="left:730.4px;top:940.5px;font-size:12px;color:#222;">BDD-40</div>
<div class="t" style="left:517.7px;top:960.2px;font-size:12px;color:#222;">42</div>
<div class="t" style="left:567.0px;top:960.2px;font-size:12px;color:#222;">75</div>
<div class="t" style="left:616.0px;top:960.2px;font-size:12px;color:#222;">32</div>
<div class="t" style="left:670.5px;top:960.2px;font-size:12px;color:#222;">1560</div>
<div class="t" style="left:730.4px;top:960.2px;font-size:12px;color:#222;">BDD-42</div>
<div class="t" style="left:517.7px;top:980.0px;font-size:12px;color:#222;">45</div>
<div class="t" style="left:567.0px;top:980.0px;font-size:12px;color:#222;">75</div>
<div class="t" style="left:616.0px;top:980.0px;font-size:12px;color:#222;">32</div>
<div class="t" style="left:670.5px;top:980.0px;font-size:12px;color:#222;">1700</div>
<div class="t" style="left:730.4px;top:980.0px;font-size:12px;color:#222;">BDD-45</div>
<div class="t" style="left:517.7px;top:999.7px;font-size:12px;color:#222;">50</div>
<div class="t" style="left:567.0px;top:999.7px;font-size:12px;color:#222;">80</div>
<div class="t" style="left:616.0px;top:999.7px;font-size:12px;color:#222;">32</div>
<div class="t" style="left:670.5px;top:999.7px;font-size:12px;color:#222;">1830</div>
<div class="t" style="left:730.4px;top:999.7px;font-size:12px;color:#222;">BDD-50</div>
<div style="position:absolute;left:1px;top:930px;width:13px;height:12px;border-radius:3px;background:#e8649f"></div><div style="position:absolute;left:6px;top:932px;width:3px;height:5px;border-radius:1px;background:#fff"></div><div style="position:absolute;left:6px;top:938px;width:3px;height:2.5px;border-radius:1px;background:#fff"></div>
<div style="position:absolute;left:1px;top:946px;width:13px;height:12px;border-radius:3px;background:#e8649f"></div><div style="position:absolute;left:6px;top:948px;width:3px;height:5px;border-radius:1px;background:#fff"></div><div style="position:absolute;left:6px;top:954px;width:3px;height:2.5px;border-radius:1px;background:#fff"></div>
<div style="position:absolute;left:16px;top:929px;font-size:12px;letter-spacing:0.55px;line-height:14px;white-space:nowrap">内孔D除了要符合左表中之范围，并且只能从右表中选择，比如<span class="b" style="letter-spacing:0">10〜16</span>，可选值为<span style="letter-spacing:0">10・11・12・14・15・16</span>。</div>
<div style="position:absolute;left:16px;top:945px;font-size:12px;letter-spacing:0.55px;line-height:14px;white-space:nowrap">只有齿形及宽度代码相同的带轮和皮带才能配套使用。</div>
<div style="position:absolute;left:0;top:1037px;width:910px;height:106px;border:1.3px solid #ef7d45"></div>
<svg width="910" height="1144" style="pointer-events:none">
<circle cx="53.8" cy="1090.5" r="24.4" fill="none" stroke="#3b78a8" stroke-width="3.8"/>
<g stroke="#3b78a8" stroke-width="2.5" fill="none" stroke-linecap="round" stroke-linejoin="round">
<path d="M70.5 1078.9 L61.3 1078.9 L58.2 1096.3 L40.6 1096.3"/>
<path d="M35.6 1085.5 L60 1085.5"/>
<path d="M38.4 1090.8 L59 1090.8"/>
</g>
<circle cx="42.2" cy="1103" r="2.3" fill="#3b78a8"/>
<circle cx="58.8" cy="1102.7" r="3.2" fill="#3b78a8"/>
<circle cx="617.4" cy="1090.6" r="24.6" fill="none" stroke="#3b78a8" stroke-width="3.6"/>
<g stroke="#3b78a8" stroke-width="1.5" fill="#fff" stroke-linejoin="round">
<path d="M602.4 1085.5 L611.5 1080 L631.7 1085.5 L631.7 1095.4 L617.2 1105.7 L602.4 1097 Z"/>
<path d="M602.4 1085.5 L617.2 1093.9 L631.7 1085.5 M617.2 1093.9 L617.2 1105.7" fill="none"/>
<path d="M608.7 1075.2 L617.2 1075.2 L629 1084.8 L620.5 1084.8 Z"/>
</g>
<path d="M611.5 1080 L620.5 1084.8 L629 1084.8 L631.7 1085.5 L625.8 1089.3 L606.5 1083.5 Z" fill="#3b78a8"/>
<path d="M605 1090.2 L614.8 1095.6 L614.8 1101.2 L605 1095.8 Z" fill="#3b78a8"/>
</svg>
<div style="position:absolute;left:84px;top:1074px;font-size:13px;letter-spacing:2.1px;color:#555;white-space:nowrap;line-height:16px">订购范例</div>
<div style="position:absolute;left:84px;top:1091px;font-size:13px;letter-spacing:6px;color:#555;white-space:nowrap;line-height:16px">Order</div>
<div style="position:absolute;left:153.2px;top:1072.60px;width:338.9px;height:1px;background:#888"></div>
<div style="position:absolute;left:153.2px;top:1091.30px;width:338.9px;height:1px;background:#888"></div>
<div style="position:absolute;left:223.70px;top:1073.1px;width:1px;height:37.2px;background:#888"></div>
<div style="position:absolute;left:241.90px;top:1073.1px;width:1px;height:37.2px;background:#888"></div>
<div style="position:absolute;left:313.10px;top:1073.1px;width:1px;height:37.2px;background:#888"></div>
<div style="position:absolute;left:330.80px;top:1073.1px;width:1px;height:37.2px;background:#888"></div>
<div style="position:absolute;left:402.60px;top:1073.1px;width:1px;height:37.2px;background:#888"></div>
<div style="position:absolute;left:420.60px;top:1073.1px;width:1px;height:37.2px;background:#888"></div>
<div style="position:absolute;left:153.2px;top:1054.2px;width:338.9px;height:56.1px;border:1.3px solid #333"></div>
<div class="t" style="left:172.6px;top:1048.7px;font-size:13px;color:#222;">标准品名：同步带轮</div>
<div class="t" style="left:38.7px;top:1067.4px;font-size:13px;color:#222;"><span class="c" style="width:13px;height:13px;font-size:10px;line-height:13px">1</span>类型码</div>
<div class="t" style="left:38.7px;top:1086.0px;font-size:12px;color:#1d9ad6;">TAEH</div>
<div class="t" style="left:83.3px;top:1067.4px;font-size:13px;color:#222;">－</div>
<div class="t" style="left:83.3px;top:1086.0px;font-size:12px;color:#1d9ad6;">－</div>
<div class="t" style="left:128.0px;top:1067.4px;font-size:13px;color:#222;"><span class="c" style="width:13px;height:13px;font-size:10px;line-height:13px">2</span>齿数</div>
<div class="t" style="left:128.0px;top:1086.0px;font-size:12px;color:#1d9ad6;">14</div>
<div class="t" style="left:172.5px;top:1067.4px;font-size:13px;color:#222;">－</div>
<div class="t" style="left:172.5px;top:1086.0px;font-size:12px;color:#1d9ad6;">－</div>
<div class="t" style="left:217.2px;top:1067.4px;font-size:13px;color:#222;"><span class="c" style="width:13px;height:13px;font-size:10px;line-height:13px">3</span>宽度代码</div>
<div class="t" style="left:217.2px;top:1086.0px;font-size:12px;color:#1d9ad6;">075</div>
<div class="t" style="left:262.1px;top:1067.4px;font-size:13px;color:#222;">－</div>
<div class="t" style="left:262.1px;top:1086.0px;font-size:12px;color:#1d9ad6;">－</div>
<div class="t" style="left:306.6px;top:1067.4px;font-size:13px;color:#222;"><span class="c" style="width:13px;height:13px;font-size:10px;line-height:13px">4</span>D</div>
<div class="t" style="left:306.6px;top:1086.0px;font-size:12px;color:#1d9ad6;">D8</div>
<div style="position:absolute;left:153.5px;top:1115px;width:13px;height:12px;border-radius:3px;background:#e8649f"></div><div style="position:absolute;left:158.5px;top:1117px;width:3px;height:5px;border-radius:1px;background:#fff"></div><div style="position:absolute;left:158.5px;top:1123px;width:3px;height:2.5px;border-radius:1px;background:#fff"></div>
<div style="position:absolute;left:167px;top:1114px;font-size:13px;line-height:14px;white-space:nowrap"><span class="c" style="width:13px;height:13px;font-size:10px;line-height:13px">4</span>步请在数字前加字母，比如<span class="b">D8</span>。</div>
<div style="position:absolute;left:647px;top:1075px;font-size:13px;letter-spacing:9.9px;color:#444;white-space:nowrap;line-height:16px">交货期</div>
<div style="position:absolute;left:647px;top:1090px;font-size:13px;letter-spacing:1.5px;color:#444;white-space:nowrap;line-height:16px">Delivery</div>
<div style="position:absolute;left:716.5px;top:1075.8px;width:88.4px;height:28.6px;border:1.2px solid #333;border-radius:5px;background:#b9cfdd"></div>
<div style="position:absolute;left:727px;top:1076px;font-size:25px;font-style:italic;line-height:28px;color:#222">5</div>
<div style="position:absolute;left:758px;top:1083px;font-size:13px;line-height:14px;color:#222;white-space:nowrap">天发货</div>
<svg width="910" height="1144"><path d="M830.10 1053.20h16.80v2.40h-16.80zM849.30 1053.20h4.80v2.40h-4.80zM856.50 1053.20h2.40v2.40h-2.40zM861.30 1053.20h4.80v2.40h-4.80zM868.50 1053.20h2.40v2.40h-2.40zM873.30 1053.20h16.80v2.40h-16.80zM830.10 1055.60h2.40v2.40h-2.40zM844.50 1055.60h2.40v2.40h-2.40zM849.30 1055.60h9.60v2.40h-9.60zM861.30 1055.60h4.80v2.40h-4.80zM873.30 1055.60h2.40v2.40h-2.40zM887.70 1055.60h2.40v2.40h-2.40zM830.10 1058.00h2.40v2.40h-2.40zM834.90 1058.00h7.20v2.40h-7.20zM844.50 1058.00h2.40v2.40h-2.40zM851.70 1058.00h2.40v2.40h-2.40zM856.50 1058.00h2.40v2.40h-2.40zM861.30 1058.00h9.60v2.40h-9.60zM873.30 1058.00h2.40v2.40h-2.40zM878.10 1058.00h7.20v2.40h-7.20zM887.70 1058.00h2.40v2.40h-2.40zM830.10 1060.40h2.40v2.40h-2.40zM834.90 1060.40h7.20v2.40h-7.20zM844.50 1060.40h2.40v2.40h-2.40zM851.70 1060.40h2.40v2.40h-2.40zM858.90 1060.40h2.40v2.40h-2.40zM863.70 1060.40h7.20v2.40h-7.20zM873.30 1060.40h2.40v2.40h-2.40zM878.10 1060.40h7.20v2.40h-7.20zM887.70 1060.40h2.40v2.40h-2.40zM830.10 1062.80h2.40v2.40h-2.40zM834.90 1062.80h7.20v2.40h-7.20zM844.50 1062.80h2.40v2.40h-2.40zM851.70 1062.80h4.80v2.40h-4.80zM858.90 1062.80h4.80v2.40h-4.80zM868.50 1062.80h2.40v2.40h-2.40zM873.30 1062.80h2.40v2.40h-2.40zM878.10 1062.80h7.20v2.40h-7.20zM887.70 1062.80h2.40v2.40h-2.40zM830.10 1065.20h2.40v2.40h-2.40zM844.50 1065.20h2.40v2.40h-2.40zM858.90 1065.20h2.40v2.40h-2.40zM863.70 1065.20h4.80v2.40h-4.80zM873.30 1065.20h2.40v2.40h-2.40zM887.70 1065.20h2.40v2.40h-2.40zM830.10 1067.60h16.80v2.40h-16.80zM849.30 1067.60h2.40v2.40h-2.40zM854.10 1067.60h2.40v2.40h-2.40zM858.90 1067.60h2.40v2.40h-2.40zM863.70 1067.60h2.40v2.40h-2.40zM868.50 1067.60h2.40v2.40h-2.40zM873.30 1067.60h16.80v2.40h-16.80zM849.30 1070.00h7.20v2.40h-7.20zM866.10 1070.00h2.40v2.40h-2.40zM834.90 1072.40h2.40v2.40h-2.40zM842.10 1072.40h4.80v2.40h-4.80zM849.30 1072.40h2.40v2.40h-2.40zM861.30 1072.40h4.80v2.40h-4.80zM868.50 1072.40h12.00v2.40h-12.00zM882.90 1072.40h7.20v2.40h-7.20zM832.50 1074.80h4.80v2.40h-4.80zM849.30 1074.80h7.20v2.40h-7.20zM861.30 1074.80h12.00v2.40h-12.00zM875.70 1074.80h9.60v2.40h-9.60zM839.70 1077.20h2.40v2.40h-2.40zM844.50 1077.20h2.40v2.40h-2.40zM854.10 1077.20h7.20v2.40h-7.20zM863.70 1077.20h26.40v2.40h-26.40zM834.90 1079.60h9.60v2.40h-9.60zM846.90 1079.60h2.40v2.40h-2.40zM854.10 1079.60h14.40v2.40h-14.40zM870.90 1079.60h4.80v2.40h-4.80zM880.50 1079.60h2.40v2.40h-2.40zM885.30 1079.60h2.40v2.40h-2.40zM837.30 1082.00h9.60v2.40h-9.60zM854.10 1082.00h4.80v2.40h-4.80zM873.30 1082.00h2.40v2.40h-2.40zM878.10 1082.00h12.00v2.40h-12.00zM834.90 1084.40h2.40v2.40h-2.40zM846.90 1084.40h12.00v2.40h-12.00zM866.10 1084.40h2.40v2.40h-2.40zM873.30 1084.40h2.40v2.40h-2.40zM885.30 1084.40h4.80v2.40h-4.80zM832.50 1086.80h2.40v2.40h-2.40zM839.70 1086.80h7.20v2.40h-7.20zM851.70 1086.80h7.20v2.40h-7.20zM863.70 1086.80h2.40v2.40h-2.40zM873.30 1086.80h2.40v2.40h-2.40zM878.10 1086.80h4.80v2.40h-4.80zM832.50 1089.20h2.40v2.40h-2.40zM839.70 1089.20h4.80v2.40h-4.80zM846.90 1089.20h4.80v2.40h-4.80zM854.10 1089.20h7.20v2.40h-7.20zM863.70 1089.20h4.80v2.40h-4.80zM873.30 1089.20h2.40v2.40h-2.40zM885.30 1089.20h4.80v2.40h-4.80zM830.10 1091.60h4.80v2.40h-4.80zM837.30 1091.60h4.80v2.40h-4.80zM844.50 1091.60h2.40v2.40h-2.40zM849.30 1091.60h2.40v2.40h-2.40zM858.90 1091.60h2.40v2.40h-2.40zM863.70 1091.60h16.80v2.40h-16.80zM851.70 1094.00h2.40v2.40h-2.40zM863.70 1094.00h2.40v2.40h-2.40zM868.50 1094.00h2.40v2.40h-2.40zM878.10 1094.00h4.80v2.40h-4.80zM830.10 1096.40h16.80v2.40h-16.80zM851.70 1096.40h2.40v2.40h-2.40zM861.30 1096.40h9.60v2.40h-9.60zM873.30 1096.40h2.40v2.40h-2.40zM878.10 1096.40h9.60v2.40h-9.60zM830.10 1098.80h2.40v2.40h-2.40zM844.50 1098.80h2.40v2.40h-2.40zM854.10 1098.80h2.40v2.40h-2.40zM861.30 1098.80h2.40v2.40h-2.40zM868.50 1098.80h2.40v2.40h-2.40zM878.10 1098.80h4.80v2.40h-4.80zM885.30 1098.80h4.80v2.40h-4.80zM830.10 1101.20h2.40v2.40h-2.40zM834.90 1101.20h7.20v2.40h-7.20zM844.50 1101.20h2.40v2.40h-2.40zM854.10 1101.20h4.80v2.40h-4.80zM861.30 1101.20h19.20v2.40h-19.20zM882.90 1101.20h2.40v2.40h-2.40zM887.70 1101.20h2.40v2.40h-2.40zM830.10 1103.60h2.40v2.40h-2.40zM834.90 1103.60h7.20v2.40h-7.20zM844.50 1103.60h2.40v2.40h-2.40zM849.30 1103.60h4.80v2.40h-4.80zM858.90 1103.60h2.40v2.40h-2.40zM868.50 1103.60h7.20v2.40h-7.20zM878.10 1103.60h7.20v2.40h-7.20zM830.10 1106.00h2.40v2.40h-2.40zM834.90 1106.00h7.20v2.40h-7.20zM844.50 1106.00h2.40v2.40h-2.40zM849.30 1106.00h4.80v2.40h-4.80zM861.30 1106.00h4.80v2.40h-4.80zM868.50 1106.00h4.80v2.40h-4.80zM880.50 1106.00h2.40v2.40h-2.40zM885.30 1106.00h2.40v2.40h-2.40zM830.10 1108.40h2.40v2.40h-2.40zM844.50 1108.40h2.40v2.40h-2.40zM849.30 1108.40h4.80v2.40h-4.80zM858.90 1108.40h4.80v2.40h-4.80zM866.10 1108.40h16.80v2.40h-16.80zM885.30 1108.40h2.40v2.40h-2.40zM830.10 1110.80h16.80v2.40h-16.80zM849.30 1110.80h12.00v2.40h-12.00zM866.10 1110.80h4.80v2.40h-4.80zM873.30 1110.80h2.40v2.40h-2.40zM878.10 1110.80h4.80v2.40h-4.80zM885.30 1110.80h2.40v2.40h-2.40z" fill="#111"/></svg>
<div style="position:absolute;left:835px;top:1114.5px;font-size:12.5px;line-height:14px;color:#333;white-space:nowrap">扫码查价</div>
<svg width="330" height="200" style="pointer-events:none"><g transform="translate(80.0 104.4) rotate(-27.5) scale(52.0 70.8)">
<circle cx="0.585" cy="-0.019" r="1" fill="#cdd1d2"/>
<circle cx="0.545" cy="-0.019" r="1" fill="#e4e6e7"/>
<path d="M0 -0.9 L0.545 -0.919 A0.9 0.9 0 0 1 0.545 0.881 L0 0.9 Z" fill="#bfc3c5"/>
<path d="M0.900 0.027L1.444 0.008M0.881 0.183L1.426 0.163M0.836 0.333L1.381 0.314M0.766 0.473L1.310 0.454M0.672 0.599L1.217 0.580M0.558 0.706L1.102 0.687M0.426 0.793L0.971 0.773M0.282 0.855L0.827 0.835M0.130 0.891L0.675 0.871M-0.027 0.900L0.518 0.880M-0.183 0.881L0.362 0.862M-0.130 -0.891L0.415 -0.910M0.027 -0.900L0.572 -0.919M0.183 -0.881L0.728 -0.901M0.333 -0.836L0.878 -0.855M0.473 -0.766L1.018 -0.785M0.599 -0.672L1.144 -0.691M0.706 -0.558L1.251 -0.577M0.793 -0.426L1.337 -0.446M0.855 -0.282L1.399 -0.302M0.891 -0.130L1.436 -0.149" stroke="#9ea3a6" stroke-width="2.4" vector-effect="non-scaling-stroke" fill="none"/>
<path d="M0.894 0.105L1.439 0.086M0.862 0.259L1.407 0.240M0.804 0.405L1.349 0.385M0.721 0.538L1.266 0.519M0.617 0.655L1.162 0.636M0.494 0.752L1.039 0.733M0.356 0.827L0.901 0.807M0.207 0.876L0.752 0.857M0.052 0.899L0.596 0.879M-0.105 0.894L0.440 0.874M-0.259 0.862L0.286 0.843M-0.207 -0.876L0.338 -0.895M-0.052 -0.899L0.493 -0.918M0.105 -0.894L0.650 -0.913M0.259 -0.862L0.804 -0.881M0.405 -0.804L0.950 -0.823M0.538 -0.721L1.083 -0.741M0.655 -0.617L1.200 -0.636M0.752 -0.494L1.297 -0.513M0.827 -0.356L1.372 -0.375M0.876 -0.207L1.421 -0.226M0.899 -0.052L1.443 -0.071" stroke="#e2e4e5" stroke-width="2.2" vector-effect="non-scaling-stroke" fill="none"/>
<circle cx="0.545" cy="-0.019" r="1" fill="none" stroke="#bcc0c2" stroke-width="0.8" vector-effect="non-scaling-stroke"/>
<circle cx="0.04" cy="0" r="1" fill="#cfd2d3"/>
<circle cx="0" cy="0" r="1" fill="#e9ebeb" stroke="#bcc0c2" stroke-width="0.8" vector-effect="non-scaling-stroke"/>
<circle cx="0" cy="0" r="0.93" fill="#e0e2e2"/>
<circle cx="0.01" cy="0" r="0.8" fill="#dadcdc" stroke="#c8cbcc" stroke-width="0.9" vector-effect="non-scaling-stroke"/>
</g>
<ellipse cx="74.5" cy="107.7" rx="21.5" ry="27.5" transform="rotate(-27.5 74.5 107.7)" fill="#6f7376"/>
<ellipse cx="74.9" cy="107.7" rx="20.2" ry="26.2" transform="rotate(-27.5 74.5 107.7)" fill="#979b9e"/>
<ellipse cx="75.2" cy="107.6" rx="12.0" ry="14.2" transform="rotate(-27.5 75.2 107.6)" fill="#6d7174"/>
<ellipse cx="77.2" cy="108.6" rx="9.5" ry="11.7" transform="rotate(-27.5 75.2 107.6)" fill="#868a8d"/>
<path d="M64 102 L75 96" stroke="#1a1a1a" stroke-width="1.6"/>
<ellipse cx="58.2" cy="92.9" rx="5.1" ry="5.7" transform="rotate(-27.5 58.2 92.9)" fill="#46494b"/>
<ellipse cx="58.7" cy="92.9" rx="2.2" ry="2.5" fill="#141414"/>
<ellipse cx="82.9" cy="99.3" rx="5.1" ry="5.7" transform="rotate(-27.5 82.9 99.3)" fill="#46494b"/>
<ellipse cx="83.4" cy="99.3" rx="2.2" ry="2.5" fill="#141414"/>
<ellipse cx="60.4" cy="119.3" rx="5.1" ry="5.7" transform="rotate(-27.5 60.4 119.3)" fill="#46494b"/>
<ellipse cx="60.9" cy="119.3" rx="2.2" ry="2.5" fill="#141414"/>
<ellipse cx="84.3" cy="127.1" rx="5.1" ry="5.7" transform="rotate(-27.5 84.3 127.1)" fill="#46494b"/>
<ellipse cx="84.8" cy="127.1" rx="2.2" ry="2.5" fill="#141414"/>
<ellipse cx="71.4" cy="88.6" rx="1.8" ry="2.1" fill="#6c6f71"/>
<ellipse cx="75.7" cy="127.1" rx="1.8" ry="2.1" fill="#6c6f71"/><g transform="translate(220.0 104.6) rotate(-28.5) scale(51.5 71.3)">
<circle cx="0.680" cy="-0.008" r="1" fill="#3a434b"/>
<circle cx="0.640" cy="-0.008" r="1" fill="#4b5661"/>
<path d="M0 -0.9 L0.640 -0.908 A0.9 0.9 0 0 1 0.640 0.892 L0 0.9 Z" fill="#46505a"/>
<path d="M0.900 0.027L1.539 0.019M0.881 0.183L1.521 0.175M0.836 0.333L1.476 0.325M0.766 0.473L1.405 0.466M0.672 0.599L1.312 0.591M0.558 0.706L1.197 0.699M0.426 0.793L1.066 0.785M0.282 0.855L0.922 0.847M0.130 0.891L0.769 0.883M-0.027 0.900L0.613 0.892M-0.183 0.881L0.457 0.874M-0.130 -0.891L0.510 -0.898M0.027 -0.900L0.667 -0.907M0.183 -0.881L0.823 -0.889M0.333 -0.836L0.973 -0.844M0.473 -0.766L1.113 -0.773M0.599 -0.672L1.239 -0.679M0.706 -0.558L1.346 -0.565M0.793 -0.426L1.432 -0.434M0.855 -0.282L1.494 -0.290M0.891 -0.130L1.530 -0.137" stroke="#23292f" stroke-width="2.4" vector-effect="non-scaling-stroke" fill="none"/>
<path d="M0.894 0.105L1.534 0.098M0.862 0.259L1.502 0.251M0.804 0.405L1.444 0.397M0.721 0.538L1.361 0.530M0.617 0.655L1.257 0.648M0.494 0.752L1.134 0.745M0.356 0.827L0.996 0.819M0.207 0.876L0.847 0.868M0.052 0.899L0.691 0.891M-0.105 0.894L0.535 0.886M-0.259 0.862L0.381 0.854M-0.207 -0.876L0.433 -0.884M-0.052 -0.899L0.588 -0.906M0.105 -0.894L0.745 -0.901M0.259 -0.862L0.899 -0.870M0.405 -0.804L1.044 -0.812M0.538 -0.721L1.178 -0.729M0.655 -0.617L1.295 -0.625M0.752 -0.494L1.392 -0.501M0.827 -0.356L1.467 -0.363M0.876 -0.207L1.516 -0.214M0.899 -0.052L1.538 -0.059" stroke="#5f6a75" stroke-width="2.2" vector-effect="non-scaling-stroke" fill="none"/>
<circle cx="0.640" cy="-0.008" r="1" fill="none" stroke="#3e4750" stroke-width="0.8" vector-effect="non-scaling-stroke"/>
<circle cx="0.04" cy="0" r="1" fill="#47525c"/>
<circle cx="0" cy="0" r="1" fill="#5c6873" stroke="#3e4750" stroke-width="0.8" vector-effect="non-scaling-stroke"/>
<circle cx="0" cy="0" r="0.93" fill="#55616d"/>
<circle cx="0.01" cy="0" r="0.8" fill="#53606b" stroke="#4a5560" stroke-width="0.9" vector-effect="non-scaling-stroke"/>
</g>
<ellipse cx="217.3" cy="106.5" rx="22.5" ry="27.0" transform="rotate(-28.5 217.3 106.5)" fill="#353c44"/>
<ellipse cx="217.70000000000002" cy="106.5" rx="21.2" ry="25.7" transform="rotate(-28.5 217.3 106.5)" fill="#c4c6c7"/>
<ellipse cx="218" cy="106.6" rx="12.3" ry="14.0" transform="rotate(-28.5 218 106.6)" fill="#9fa2a4"/>
<ellipse cx="220" cy="107.6" rx="9.8" ry="11.5" transform="rotate(-28.5 218 106.6)" fill="#b4b7b9"/>
<path d="M215 107.9 L234.4 96.4" stroke="#e8e8e8" stroke-width="1.6"/>
<ellipse cx="215.1" cy="89.3" rx="5.1" ry="5.7" transform="rotate(-28.5 215.1 89.3)" fill="#66696c"/>
<ellipse cx="215.6" cy="89.3" rx="2.2" ry="2.5" fill="#141414"/>
<ellipse cx="197.6" cy="101.4" rx="5.1" ry="5.7" transform="rotate(-28.5 197.6 101.4)" fill="#66696c"/>
<ellipse cx="198.1" cy="101.4" rx="2.2" ry="2.5" fill="#141414"/>
<ellipse cx="231.6" cy="117.1" rx="5.1" ry="5.7" transform="rotate(-28.5 231.6 117.1)" fill="#66696c"/>
<ellipse cx="232.1" cy="117.1" rx="2.2" ry="2.5" fill="#141414"/>
<ellipse cx="212.6" cy="126.4" rx="5.1" ry="5.7" transform="rotate(-28.5 212.6 126.4)" fill="#66696c"/>
<ellipse cx="213.1" cy="126.4" rx="2.2" ry="2.5" fill="#141414"/>
<ellipse cx="206.2" cy="88.6" rx="1.8" ry="2.1" fill="#8a8d8f"/>
<ellipse cx="229.1" cy="125.7" rx="1.8" ry="2.1" fill="#8a8d8f"/></svg>
<svg width="910" height="519" style="pointer-events:none">
<path d="M464.5 236.2 L467.1 236.2 L467.1 216 Q466 208 465.2 202.5 L472.2 202.5 Q473.4 208 473.7 215 L546.3 215 Q546.6 208 547.8 202.5 L554.8 202.5 Q554 208 552.9 216 L552.9 236.2 L555.5 236.2 L558.8 240 L558.8 412.0 L555.5 415.8 L552.9 415.8 L552.9 436.0 Q554 444.0 554.8 449.5 L547.8 449.5 Q546.6 444.0 546.3 437.0 L473.7 437.0 Q473.4 444.0 472.2 449.5 L465.2 449.5 Q466 444.0 467.1 436.0 L467.1 415.8 L464.5 415.8 L460.8 412.0 L460.8 240 Z" fill="#e0e1e3"/>
<path d="M467.1 236.2 L467.1 216 Q466 208 465.2 202.5 L472.2 202.5 Q473.4 208 473.7 215 L473.7 236.2 Z" fill="#cfdae3" stroke="#2b2b2b" stroke-width="1.3" stroke-linejoin="round"/>
<path d="M552.9 236.2 L552.9 216 Q554 208 554.8 202.5 L547.8 202.5 Q546.6 208 546.3 215 L546.3 236.2 Z" fill="#cfdae3" stroke="#2b2b2b" stroke-width="1.3" stroke-linejoin="round"/>
<path d="M467.1 415.8 L467.1 436.0 Q466 444.0 465.2 449.5 L472.2 449.5 Q473.4 444.0 473.7 437.0 L473.7 415.8 Z" fill="#cfdae3" stroke="#2b2b2b" stroke-width="1.3" stroke-linejoin="round"/>
<path d="M552.9 415.8 L552.9 436.0 Q554 444.0 554.8 449.5 L547.8 449.5 Q546.6 444.0 546.3 437.0 L546.3 415.8 Z" fill="#cfdae3" stroke="#2b2b2b" stroke-width="1.3" stroke-linejoin="round"/>
<path d="M467.1 236.2 L464.5 236.2 L460.8 240 L460.8 293.2" fill="none" stroke="#2b2b2b" stroke-width="1.3"/>
<path d="M552.9 236.2 L555.5 236.2 L558.8 240 L558.8 267.4" fill="none" stroke="#2b2b2b" stroke-width="1.3"/>
<path d="M473.7 215 L546.3 215 M473.7 225 L546.3 225" stroke="#2b2b2b" stroke-width="1.4"/>
<path d="M482.7 267.4 L558.8 267.4" stroke="#2b2b2b" stroke-width="1.4"/>
<path d="M484.4 268.4 L520.5 272.4 L521.5 274.3" fill="none" stroke="#2b2b2b" stroke-width="0.9"/>
<path d="M482.7 274.8 L547.2 274.8 M482.7 289.2 L547.2 289.2" stroke="#2b2b2b" stroke-width="1.6"/>
<path d="M498.7 274.8 L498.7 289.2" stroke="#2b2b2b" stroke-width="1.8"/>
<path d="M508.6 290.2 L544.2 294.6" stroke="#2b2b2b" stroke-width="0.9"/>
<path d="M547.6 269.4 L558.8 269.4 M547.6 271.9 L558.8 271.9 M547.6 291 L558.8 291" stroke="#444" stroke-width="0.8"/>
<path d="M555.5 276 Q551.5 278 549.6 282 Q551.5 286 555.5 288 M555.5 279 L558.8 279 M555.5 285 L558.8 285" fill="none" stroke="#444" stroke-width="0.8"/>
<path d="M460.8 293.2 L464.5 296.9 L544.7 296.9" fill="none" stroke="#2b2b2b" stroke-width="1.3"/>
<path d="M467.1 415.8 L464.5 415.8 L460.8 412.0 L460.8 358.8" fill="none" stroke="#2b2b2b" stroke-width="1.3"/>
<path d="M552.9 415.8 L555.5 415.8 L558.8 412.0 L558.8 384.6" fill="none" stroke="#2b2b2b" stroke-width="1.3"/>
<path d="M473.7 437.0 L546.3 437.0 M473.7 427.0 L546.3 427.0" stroke="#2b2b2b" stroke-width="1.4"/>
<path d="M482.7 384.6 L558.8 384.6" stroke="#2b2b2b" stroke-width="1.4"/>
<path d="M484.4 383.6 L520.5 379.6 L521.5 377.7" fill="none" stroke="#2b2b2b" stroke-width="0.9"/>
<path d="M482.7 377.2 L547.2 377.2 M482.7 362.8 L547.2 362.8" stroke="#2b2b2b" stroke-width="1.6"/>
<path d="M498.7 377.2 L498.7 362.8" stroke="#2b2b2b" stroke-width="1.8"/>
<path d="M508.6 361.8 L544.2 357.4" stroke="#2b2b2b" stroke-width="0.9"/>
<path d="M547.6 382.6 L558.8 382.6 M547.6 380.1 L558.8 380.1 M547.6 361.0 L558.8 361.0" stroke="#444" stroke-width="0.8"/>
<path d="M555.5 376.0 Q551.5 374.0 549.6 370.0 Q551.5 366.0 555.5 364.0 M555.5 373.0 L558.8 373.0 M555.5 367.0 L558.8 367.0" fill="none" stroke="#444" stroke-width="0.8"/>
<path d="M460.8 358.8 L464.5 355.1 L544.7 355.1" fill="none" stroke="#2b2b2b" stroke-width="1.3"/>
<path d="M460.8 293.2 L460.8 358.8 M465.6 296.9 L465.6 355.1 M558.8 267.4 L558.8 384.6 M482.7 267.4 L482.7 384.6 M544.7 296.9 L544.7 355.1 M547.6 267.4 L547.6 384.6" fill="none" stroke="#2b2b2b" stroke-width="1.3"/>
<path d="M452.9 326 L564.7 326" stroke="#555" stroke-width="0.8" stroke-dasharray="14 3 2 3"/>
<path d="M510 205.8 L510 305 M510 347 L510 446.2" stroke="#555" stroke-width="0.8" stroke-dasharray="14 3 2 3"/>
<path d="M473.7 209.6 L546.3 209.6" stroke="#666" stroke-width="0.9" stroke-dasharray="7 4"/>
<path d="M473.7 442.4 L546.3 442.4" stroke="#666" stroke-width="0.9" stroke-dasharray="7 4"/>
<path d="M460.9 120.8 L460.9 236 M558.4 120.8 L558.4 236 M460.9 126.3 L558.4 126.3 M473.8 140.5 L473.8 202 M545.8 140.5 L545.8 202 M473.8 146.7 L545.8 146.7 M432.9 169.6 L485.3 169.6 M534 169.6 L590.5 169.6 M360.9 209.4 L465.5 209.4 M360.9 442.6 L465.5 442.6 M367.1 209.4 L367.1 442.6 M388.2 215 L467 215 M388.2 437.0 L467 437.0 M394.6 215 L394.6 437.0 M415.9 296.9 L460.8 296.9 M415.9 354.9 L460.8 354.9 M421.9 296.9 L421.9 354.9 M557.7 202.6 L635.7 202.6 M557.7 449.4 L635.7 449.4 M630 202.6 L630 449.4 M558.8 235.9 L616.5 235.9 M558.8 416.1 L616.5 416.1 M610.4 235.9 L610.4 416.1 M561.5 267.7 L597.8 267.7 M561.5 384.3 L597.8 384.3 M591.5 267.7 L591.5 384.3 M482.9 384 L482.9 482.7 M558.5 416 L558.5 482.7 M482.9 477.1 L558.5 477.1 M466 448.7 L459 493.5 M472.6 448.7 L465.5 494.4 M427.2 483.2 L478.2 490.7" stroke="#555" stroke-width="0.8" fill="none"/>
<path d="M460.90 126.30L466.40 124.90L466.40 127.70Z" fill="#222"/>
<path d="M558.40 126.30L552.90 127.70L552.90 124.90Z" fill="#222"/>
<path d="M473.80 146.70L479.30 145.30L479.30 148.10Z" fill="#222"/>
<path d="M545.80 146.70L540.30 148.10L540.30 145.30Z" fill="#222"/>
<path d="M460.90 169.60L455.40 171.00L455.40 168.20Z" fill="#222"/>
<path d="M473.80 169.60L479.30 168.20L479.30 171.00Z" fill="#222"/>
<path d="M545.80 169.60L540.30 171.00L540.30 168.20Z" fill="#222"/>
<path d="M558.40 169.60L563.90 168.20L563.90 171.00Z" fill="#222"/>
<path d="M367.10 209.40L368.50 214.90L365.70 214.90Z" fill="#222"/>
<path d="M367.10 442.60L365.70 437.10L368.50 437.10Z" fill="#222"/>
<path d="M394.60 215.00L396.00 220.50L393.20 220.50Z" fill="#222"/>
<path d="M394.60 437.00L393.20 431.50L396.00 431.50Z" fill="#222"/>
<path d="M421.90 296.90L423.30 302.40L420.50 302.40Z" fill="#222"/>
<path d="M421.90 354.90L420.50 349.40L423.30 349.40Z" fill="#222"/>
<path d="M630.00 202.60L631.40 208.10L628.60 208.10Z" fill="#222"/>
<path d="M630.00 449.40L628.60 443.90L631.40 443.90Z" fill="#222"/>
<path d="M610.40 235.90L611.80 241.40L609.00 241.40Z" fill="#222"/>
<path d="M610.40 416.10L609.00 410.60L611.80 410.60Z" fill="#222"/>
<path d="M591.50 267.70L592.90 273.20L590.10 273.20Z" fill="#222"/>
<path d="M591.50 384.30L590.10 378.80L592.90 378.80Z" fill="#222"/>
<path d="M482.90 477.10L488.40 475.70L488.40 478.50Z" fill="#222"/>
<path d="M558.50 477.10L553.00 478.50L553.00 475.70Z" fill="#222"/>
<path d="M462.30 488.50L456.65 489.09L457.06 486.31Z" fill="#222"/>
<path d="M469.00 489.50L474.65 488.91L474.24 491.69Z" fill="#222"/>
<g font-family="Liberation Sans, sans-serif">
<text x="510.4" y="118.5" font-size="11" fill="#222" text-anchor="middle" dominant-baseline="central" >A+5</text>
<text x="510" y="139.5" font-size="11" fill="#222" text-anchor="middle" dominant-baseline="central" >A</text>
<text x="442.5" y="163" font-size="11" fill="#222" text-anchor="middle" dominant-baseline="central" >2. 5</text>
<text x="580.5" y="163" font-size="11" fill="#222" text-anchor="middle" dominant-baseline="central" >2. 5</text>
<text x="359.9" y="325" font-size="11" fill="#222" text-anchor="middle" dominant-baseline="central" transform="rotate(-90 359.9 325)" >P. D.</text>
<text x="386.9" y="325.5" font-size="11" fill="#222" text-anchor="middle" dominant-baseline="central" transform="rotate(-90 386.9 325.5)" >O. D.</text>
<text x="585.2" y="325.5" font-size="11" fill="#222" text-anchor="middle" dominant-baseline="central" transform="rotate(-90 585.2 325.5)" >H</text>
<text x="604.9" y="325.5" font-size="11" fill="#222" text-anchor="middle" dominant-baseline="central" transform="rotate(-90 604.9 325.5)" >E</text>
<text x="624.5" y="325.5" font-size="11" fill="#222" text-anchor="middle" dominant-baseline="central" transform="rotate(-90 624.5 325.5)" >F</text>
<text x="520.2" y="470.5" font-size="11" fill="#222" text-anchor="middle" dominant-baseline="central" >K</text>
<text x="439" y="477" font-size="11" fill="#222" text-anchor="middle" dominant-baseline="central" transform="rotate(8 439 477)" font-style="italic">2. 0</text>
<text x="430.4" y="325.5" font-size="10" fill="#222" text-anchor="middle" dominant-baseline="central" transform="rotate(-90 430.4 325.5)" >（公差H7）</text>
<circle cx="413.3" cy="329.3" r="6" fill="#ef6a2b"/>
<text x="413.3" y="329.5" font-size="9" fill="#fff" text-anchor="middle" dominant-baseline="central" transform="rotate(-90 413.3 329.5)" >3</text>
<text x="414" y="319.4" font-size="10" fill="#1d9ad6" text-anchor="middle" dominant-baseline="central" transform="rotate(-90 414 319.4)" >D</text>
</g>
<g stroke="#222" fill="none">
<path d="M715.9 179.6 Q731 175.6 746.7 173 L763.2 200.4 Q764.3 202.3 766.3 202.3 L791.6 202.3 Q793.4 202.3 794.4 200.6 L812 172.5 Q826.5 174.8 840.5 178.8" stroke-width="1.7"/>
</g>
<g stroke="#444" stroke-width="0.8" fill="none">
<path d="M689 178.8 Q780 139.1 872 179" stroke-dasharray="9 3.5 2 3.5"/>
<path d="M779.4 137.3 L779.4 205" stroke-dasharray="9 2.5 2 2.5"/>
<path d="M738.3 155.4 Q779.4 134.2 820.5 155.4"/>
<path d="M747.4 172.3 L735.3 150.6 M810.9 172.9 L824.2 150.6"/>
<path d="M794.5 202.7 Q836 209 878.5 222.5 M840.5 178.8 L878 190.1"/>
<path d="M871.9 189.6 L863.6 219.2"/>
<path d="M764.8 204 L764.8 237 M794.3 204 L794.3 237 M764.8 231.4 L794.3 231.4"/>
<path d="M718.1 211.6 L746.7 173 M753.8 234.7 L764.8 202.9"/>
<path d="M807.6 235.7 L819.1 174.2 M827.9 239.6 L849.9 172.5"/>
</g>
<path d="M764.80 231.40L769.30 230.30L769.30 232.50Z" fill="#222"/>
<path d="M794.30 231.40L789.80 232.50L789.80 230.30Z" fill="#222"/>
<path d="M871.90 189.60L871.79 194.23L869.67 193.66Z" fill="#222"/>
<path d="M863.60 219.20L863.71 214.57L865.83 215.14Z" fill="#222"/>
<path d="M738.30 155.40L741.62 152.17L742.74 154.07Z" fill="#222"/>
<path d="M820.50 155.40L816.06 154.07L817.18 152.17Z" fill="#222"/>
<path d="M779.40 144.80L774.88 145.81L774.92 143.61Z" fill="#222"/>
<path d="M779.40 144.80L783.88 143.61L783.92 145.81Z" fill="#222"/>
<path d="M746.70 173.00L744.90 177.27L743.13 175.96Z" fill="#222"/>
<path d="M764.80 202.90L764.37 207.51L762.29 206.79Z" fill="#222"/>
<path d="M819.10 174.20L819.35 178.83L817.19 178.42Z" fill="#222"/>
<path d="M849.90 172.50L849.54 177.12L847.45 176.43Z" fill="#222"/>
<g font-family="Liberation Sans, sans-serif">
<text x="755.2" y="141.5" font-size="11.5" fill="#222" text-anchor="middle" dominant-baseline="central" transform="rotate(-15 755.2 141.5)" >20°</text>
<text x="802.4" y="139.7" font-size="11.5" fill="#222" text-anchor="middle" dominant-baseline="central" transform="rotate(-12 802.4 139.7)" font-style="italic">20°</text>
<text x="722.5" y="193.5" font-size="11" fill="#222" text-anchor="middle" dominant-baseline="central" transform="rotate(-53.5 722.5 193.5)" >R1. 42</text>
<text x="734.3" y="200.9" font-size="11" fill="#222" text-anchor="middle" dominant-baseline="central" transform="rotate(-53.5 734.3 200.9)" >(R1. 04)</text>
<text x="752.7" y="219.3" font-size="11" fill="#222" text-anchor="middle" dominant-baseline="central" transform="rotate(-71 752.7 219.3)" >R1. 47</text>
<text x="779.1" y="224.3" font-size="11" fill="#222" text-anchor="middle" dominant-baseline="central" >4. 24</text>
<text x="803.2" y="222.5" font-size="10.5" fill="#222" text-anchor="middle" dominant-baseline="central" transform="rotate(-79.4 803.2 222.5)" >O. D.</text>
<text x="824.6" y="225.8" font-size="10.5" fill="#222" text-anchor="middle" dominant-baseline="central" transform="rotate(-71.8 824.6 225.8)" >P. D.</text>
<text x="861.4" y="202.7" font-size="11" fill="#222" text-anchor="middle" dominant-baseline="central" transform="rotate(-75 861.4 202.7)" >2. 59</text>
</g>
</svg>
<div style="position:absolute;left:691px;top:114px;font-size:16px;line-height:18px;white-space:nowrap;color:#222;letter-spacing:0.65px">H齿形(ISO标准齿条尺寸)</div>
<div class="t" style="left:631.5px;top:232.7px;font-size:13px">( ):齿数19以下</div>
<div class="t" style="left:632px;top:248.8px;font-size:13px">齿槽尺寸会因齿数不同而略有差异</div>
<div class="t" style="left:631.5px;top:263.8px;font-size:13px">(齿距：12.7㎜)</div>
<svg width="910" height="1144" style="pointer-events:none"><g font-family="Liberation Sans, sans-serif" font-weight="bold" font-size="118" fill="none" stroke="#7fb6e0" stroke-opacity="0.22" stroke-width="5" stroke-linejoin="round"><text transform="translate(313 422) rotate(-45)">SAMPLE</text><text transform="translate(318 1074) rotate(-45)">SAMPLE</text></g></svg>
</body></html>
